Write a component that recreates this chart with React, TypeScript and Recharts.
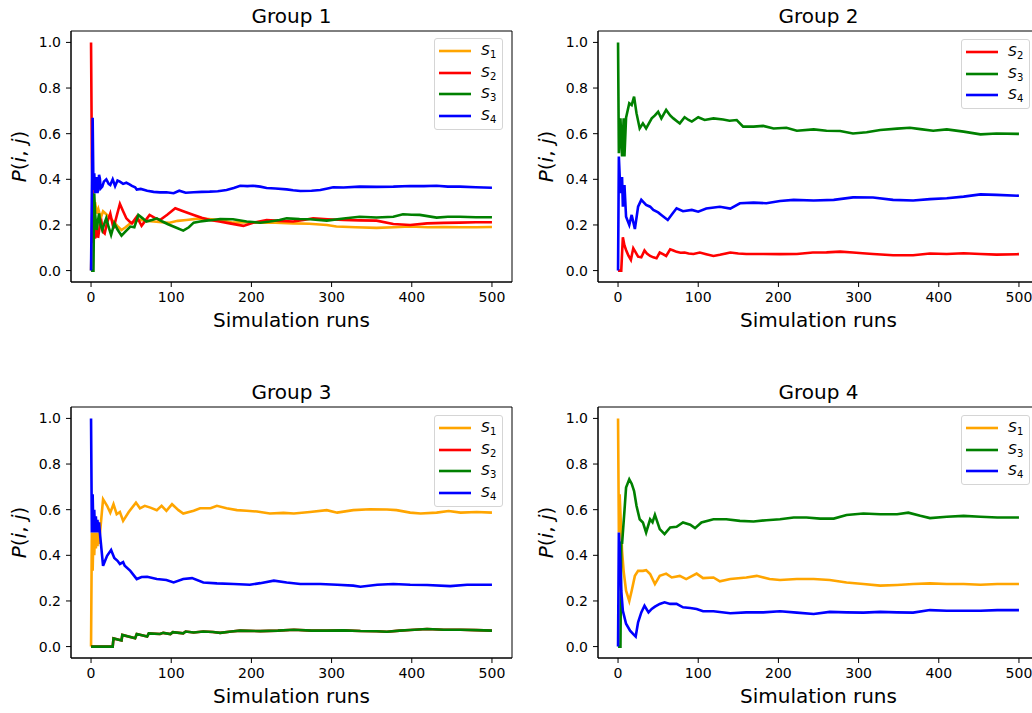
import React from 'react';
import { LineChart, Line, XAxis, YAxis, Legend, Label, ReferenceArea } from 'recharts';

// [simulation run, P(i, j)] pairs
const g1S1: [number, number][] = [
  [0, 0], [2, 0.33], [3, 0.25], [5, 0.3], [7, 0.25], [9, 0.27], [12, 0.23], [15, 0.26], [20, 0.244],
  [24, 0.23], [28, 0.215], [33, 0.195], [38, 0.178], [43, 0.19], [49, 0.207], [55, 0.215], [61, 0.222],
  [70, 0.218], [78, 0.215], [88, 0.212], [98, 0.21], [108, 0.218], [119, 0.222], [136, 0.229], [150, 0.225],
  [161, 0.222], [177, 0.21], [195, 0.212], [211, 0.21], [230, 0.21], [252, 0.207], [272, 0.205], [294, 0.2],
  [306, 0.193], [330, 0.19], [356, 0.187], [378, 0.19], [398, 0.193], [420, 0.19], [439, 0.191], [460, 0.19],
  [480, 0.19], [500, 0.191],
];
const g1S2: [number, number][] = [
  [0, 1.0], [1, 0.5], [2, 0.333], [3, 0.12], [4, 0.2], [5, 0.14], [6, 0.207], [8, 0.15], [9, 0.149],
  [11, 0.2], [13, 0.215], [15, 0.17], [17, 0.163], [20, 0.21], [24, 0.25], [28, 0.185], [32, 0.24],
  [36, 0.292], [40, 0.26], [44, 0.229], [48, 0.215], [51, 0.207], [57, 0.236], [63, 0.196], [68, 0.22],
  [73, 0.244], [80, 0.23], [86, 0.222], [95, 0.245], [105, 0.273], [115, 0.26], [128, 0.244], [138, 0.232],
  [148, 0.222], [160, 0.215], [173, 0.207], [190, 0.196], [202, 0.21], [219, 0.222], [235, 0.218],
  [252, 0.215], [265, 0.222], [277, 0.229], [295, 0.225], [315, 0.222], [335, 0.22], [356, 0.219],
  [377, 0.204], [398, 0.2], [419, 0.207], [440, 0.209], [460, 0.21], [480, 0.212], [500, 0.212],
];
const g1S3: [number, number][] = [
  [0, 0], [3, 0], [4, 0.339], [5, 0.25], [7, 0.178], [10, 0.25], [12, 0.2], [14, 0.178], [17, 0.21],
  [19, 0.23], [22, 0.19], [25, 0.156], [29, 0.207], [33, 0.18], [38, 0.153], [44, 0.175], [49, 0.193],
  [54, 0.19], [59, 0.244], [64, 0.23], [69, 0.215], [76, 0.222], [82, 0.229], [89, 0.215], [96, 0.203],
  [105, 0.19], [115, 0.175], [122, 0.19], [128, 0.21], [136, 0.215], [144, 0.219], [152, 0.222],
  [161, 0.226], [177, 0.225], [194, 0.215], [211, 0.21], [223, 0.215], [235, 0.222], [244, 0.229],
  [260, 0.226], [273, 0.225], [294, 0.219], [315, 0.228], [335, 0.236], [356, 0.233], [377, 0.236],
  [389, 0.247], [400, 0.245], [410, 0.244], [431, 0.232], [445, 0.236], [460, 0.236], [480, 0.234],
  [500, 0.234],
];
const g1S4: [number, number][] = [
  [0, 0], [2, 0.67], [3, 0.353], [4, 0.426], [5, 0.339], [7, 0.41], [8, 0.34], [9, 0.36], [10, 0.42],
  [11, 0.404], [12, 0.36], [14, 0.368], [16, 0.39], [19, 0.4], [22, 0.38], [24, 0.375], [27, 0.4],
  [30, 0.37], [33, 0.395], [36, 0.39], [40, 0.38], [44, 0.385], [48, 0.378], [51, 0.371], [55, 0.365],
  [57, 0.355], [62, 0.358], [70, 0.35], [78, 0.345], [86, 0.343], [94, 0.343], [103, 0.339], [110, 0.35],
  [118, 0.341], [128, 0.343], [138, 0.345], [148, 0.346], [158, 0.348], [169, 0.353], [178, 0.362],
  [186, 0.372], [195, 0.37], [202, 0.372], [211, 0.368], [219, 0.362], [230, 0.36], [244, 0.356],
  [252, 0.352], [261, 0.349], [275, 0.35], [286, 0.353], [295, 0.36], [302, 0.365], [315, 0.364],
  [335, 0.368], [356, 0.367], [377, 0.368], [398, 0.371], [415, 0.37], [431, 0.372], [445, 0.368],
  [460, 0.368], [480, 0.365], [500, 0.363],
];

const g2S2: [number, number][] = [
  [0, 0], [4, 0], [6, 0.146], [8, 0.11], [10, 0.09], [13, 0.065], [16, 0.047], [19, 0.098], [22, 0.08],
  [25, 0.061], [29, 0.058], [33, 0.088], [36, 0.075], [40, 0.064], [44, 0.058], [48, 0.054], [52, 0.079],
  [56, 0.072], [60, 0.064], [65, 0.093], [69, 0.088], [73, 0.082], [78, 0.078], [83, 0.079], [88, 0.075],
  [94, 0.073], [102, 0.079], [110, 0.072], [119, 0.064], [127, 0.069], [140, 0.079], [150, 0.075],
  [160, 0.073], [181, 0.073], [202, 0.072], [223, 0.073], [243, 0.079], [260, 0.08], [277, 0.083],
  [293, 0.079], [305, 0.076], [318, 0.073], [343, 0.067], [368, 0.067], [389, 0.075], [410, 0.073],
  [431, 0.076], [452, 0.073], [472, 0.07], [500, 0.072],
];
const g2S3: [number, number][] = [
  [0, 1.0], [1, 0.514], [3, 0.667], [5, 0.5], [7, 0.667], [8, 0.5], [10, 0.67], [14, 0.733], [17, 0.725],
  [20, 0.762], [23, 0.69], [27, 0.623], [31, 0.645], [35, 0.623], [42, 0.667], [46, 0.68], [50, 0.696],
  [54, 0.667], [60, 0.704], [65, 0.68], [69, 0.667], [77, 0.645], [83, 0.672], [88, 0.66], [92, 0.653],
  [100, 0.672], [108, 0.66], [119, 0.667], [131, 0.662], [139, 0.657], [148, 0.66], [156, 0.631],
  [169, 0.631], [181, 0.634], [194, 0.623], [210, 0.626], [223, 0.613], [244, 0.619], [260, 0.613],
  [277, 0.612], [293, 0.601], [310, 0.606], [327, 0.616], [348, 0.622], [364, 0.626], [377, 0.62],
  [393, 0.613], [410, 0.619], [431, 0.609], [452, 0.597], [472, 0.601], [500, 0.599],
];
const g2S4: [number, number][] = [
  [0, 0], [1, 0.5], [3, 0.339], [5, 0.41], [6, 0.28], [8, 0.375], [10, 0.236], [14, 0.2], [17, 0.244],
  [21, 0.182], [25, 0.28], [29, 0.31], [35, 0.288], [40, 0.28], [44, 0.266], [50, 0.255], [54, 0.244],
  [62, 0.222], [68, 0.25], [73, 0.273], [81, 0.26], [92, 0.266], [100, 0.258], [110, 0.272], [127, 0.28],
  [140, 0.272], [152, 0.295], [169, 0.298], [185, 0.295], [202, 0.305], [219, 0.31], [244, 0.307],
  [269, 0.31], [293, 0.321], [318, 0.32], [343, 0.31], [368, 0.307], [389, 0.313], [410, 0.317],
  [431, 0.324], [452, 0.334], [472, 0.332], [500, 0.328],
];

const g3S1: [number, number][] = [
  [0, 0], [1, 0.5], [2, 0.333], [3, 0.5], [4, 0.4], [5, 0.5], [6, 0.43], [7, 0.5], [8, 0.44], [9, 0.5],
  [10, 0.45], [11, 0.493], [15, 0.646], [20, 0.617], [24, 0.587], [28, 0.624], [32, 0.58], [36, 0.59],
  [40, 0.551], [47, 0.59], [56, 0.631], [61, 0.606], [67, 0.617], [74, 0.609], [82, 0.598], [88, 0.617],
  [94, 0.595], [101, 0.624], [109, 0.598], [115, 0.583], [128, 0.595], [136, 0.606], [149, 0.606],
  [157, 0.617], [169, 0.606], [182, 0.598], [194, 0.595], [207, 0.592], [223, 0.583], [240, 0.586],
  [253, 0.583], [273, 0.59], [294, 0.598], [307, 0.587], [327, 0.598], [348, 0.602], [369, 0.601],
  [381, 0.598], [398, 0.587], [411, 0.583], [431, 0.587], [446, 0.594], [461, 0.587], [481, 0.59],
  [500, 0.587],
];
const g3S2: [number, number][] = [
  [0, 0], [27, 0], [28, 0.036], [38, 0.027], [39, 0.051], [55, 0.037], [57, 0.055], [70, 0.044],
  [72, 0.058], [86, 0.055], [90, 0.06], [99, 0.055], [102, 0.063], [115, 0.058], [118, 0.066], [128, 0.062],
  [140, 0.066], [152, 0.064], [161, 0.06], [175, 0.066], [186, 0.07], [211, 0.068], [233, 0.07],
  [253, 0.074], [275, 0.07], [294, 0.07], [315, 0.071], [336, 0.068], [356, 0.067], [369, 0.065],
  [385, 0.07], [398, 0.073], [419, 0.077], [440, 0.074], [461, 0.074], [480, 0.072], [500, 0.07],
];
const g3S3: [number, number][] = [
  [0, 0], [27, 0], [28, 0.036], [38, 0.027], [39, 0.051], [55, 0.037], [57, 0.055], [70, 0.044],
  [72, 0.058], [86, 0.055], [90, 0.06], [99, 0.055], [102, 0.063], [115, 0.058], [118, 0.066], [128, 0.062],
  [140, 0.066], [152, 0.064], [161, 0.06], [175, 0.066], [186, 0.07], [211, 0.068], [233, 0.07],
  [253, 0.074], [275, 0.07], [294, 0.07], [315, 0.071], [336, 0.068], [356, 0.067], [369, 0.065],
  [385, 0.07], [398, 0.073], [419, 0.077], [440, 0.074], [461, 0.074], [480, 0.072], [500, 0.07],
];
const g3S4: [number, number][] = [
  [0, 1.0], [1, 0.5], [2, 0.667], [3, 0.5], [4, 0.6], [5, 0.5], [6, 0.571], [7, 0.5], [8, 0.556], [9, 0.5],
  [10, 0.545], [11, 0.5], [15, 0.354], [20, 0.398], [25, 0.423], [29, 0.388], [33, 0.376], [36, 0.362],
  [40, 0.37], [42, 0.354], [49, 0.332], [57, 0.296], [63, 0.305], [70, 0.306], [82, 0.296], [94, 0.292],
  [103, 0.281], [115, 0.296], [126, 0.3], [140, 0.281], [157, 0.277], [178, 0.274], [198, 0.271],
  [211, 0.278], [228, 0.289], [244, 0.281], [261, 0.274], [286, 0.274], [307, 0.271], [327, 0.267],
  [336, 0.262], [357, 0.271], [377, 0.274], [398, 0.271], [419, 0.27], [448, 0.265], [469, 0.271],
  [500, 0.271],
];

const g4S1: [number, number][] = [
  [0, 1.0], [1, 0.5], [2, 0.667], [4, 0.5], [5, 0.42], [7, 0.33], [10, 0.245], [14, 0.2], [17, 0.245],
  [21, 0.31], [25, 0.332], [31, 0.332], [35, 0.335], [40, 0.318], [46, 0.274], [52, 0.31], [60, 0.32],
  [67, 0.303], [77, 0.31], [85, 0.296], [98, 0.32], [106, 0.3], [119, 0.303], [127, 0.286], [140, 0.296],
  [160, 0.303], [173, 0.31], [189, 0.296], [202, 0.292], [223, 0.296], [244, 0.296], [264, 0.292],
  [285, 0.281], [306, 0.274], [327, 0.267], [348, 0.27], [368, 0.274], [389, 0.277], [410, 0.274],
  [431, 0.274], [452, 0.271], [473, 0.274], [500, 0.274],
];
const g4S3: [number, number][] = [
  [0, 0], [3, 0], [4, 0.46], [5, 0.45], [8, 0.595], [10, 0.697], [14, 0.733], [17, 0.714], [20, 0.682],
  [23, 0.617], [27, 0.558], [31, 0.544], [35, 0.5], [40, 0.558], [43, 0.545], [46, 0.577], [52, 0.515],
  [58, 0.493], [65, 0.522], [73, 0.525], [81, 0.544], [90, 0.534], [96, 0.519], [104, 0.544], [119, 0.558],
  [135, 0.558], [152, 0.551], [169, 0.548], [185, 0.554], [202, 0.558], [219, 0.566], [235, 0.566],
  [252, 0.561], [269, 0.561], [285, 0.577], [306, 0.583], [327, 0.58], [348, 0.58], [362, 0.587],
  [377, 0.573], [389, 0.563], [410, 0.569], [431, 0.573], [452, 0.569], [473, 0.566], [500, 0.566],
];
const g4S4: [number, number][] = [
  [0, 0], [1, 0.5], [3, 0.36], [4, 0.245], [6, 0.157], [10, 0.1], [15, 0.07], [19, 0.055], [22, 0.044],
  [25, 0.106], [29, 0.15], [33, 0.179], [38, 0.15], [42, 0.165], [46, 0.175], [52, 0.187], [58, 0.194],
  [65, 0.187], [73, 0.187], [81, 0.172], [90, 0.169], [98, 0.165], [106, 0.155], [119, 0.155], [140, 0.146],
  [160, 0.15], [181, 0.15], [202, 0.155], [223, 0.149], [244, 0.143], [264, 0.152], [285, 0.15],
  [306, 0.149], [327, 0.152], [348, 0.15], [368, 0.149], [389, 0.16], [410, 0.157], [431, 0.157],
  [452, 0.157], [473, 0.16], [500, 0.16],
];

const X_TICKS = [0, 100, 200, 300, 400, 500];
const Y_TICKS = [0, 0.2, 0.4, 0.6, 0.8, 1.0];

const COLORS: Record<string, string> = {
  '1': '#FFA500',
  '2': '#FF0000',
  '3': '#008000',
  '4': '#0000FF',
};

const FONT = 'DejaVu Sans';

type Series = { id: string; points: [number, number][] };

const panels: { title: string; x: number; y: number; legendTop: number; series: Series[] }[] = [
  {
    title: 'Group 1', x: 0, y: 0, legendTop: 38,
    series: [{ id: '1', points: g1S1 }, { id: '2', points: g1S2 }, { id: '3', points: g1S3 }, { id: '4', points: g1S4 }],
  },
  {
    title: 'Group 2', x: 527, y: 0, legendTop: 39,
    series: [{ id: '2', points: g2S2 }, { id: '3', points: g2S3 }, { id: '4', points: g2S4 }],
  },
  {
    title: 'Group 3', x: 0, y: 376, legendTop: 39,
    series: [{ id: '1', points: g3S1 }, { id: '2', points: g3S2 }, { id: '3', points: g3S3 }, { id: '4', points: g3S4 }],
  },
  {
    title: 'Group 4', x: 527, y: 376, legendTop: 39,
    series: [{ id: '1', points: g4S1 }, { id: '3', points: g4S3 }, { id: '4', points: g4S4 }],
  },
];

const tickStyle = { fontSize: 14, fill: '#000', fontFamily: FONT };

function YTitle(props: any) {
  const vb = props.viewBox || { x: 0, y: 0, width: 0, height: 0 };
  const cx = vb.x + 26;
  const cy = vb.y + vb.height / 2;
  return (
    <text
      x={cx}
      y={cy}
      transform={`rotate(-90 ${cx} ${cy})`}
      textAnchor="middle"
      fontSize={20}
      fill="#000"
      fontFamily={FONT}
    >
      <tspan fontStyle="italic">P</tspan>(<tspan fontStyle="italic">i</tspan>, <tspan fontStyle="italic">j</tspan>)
    </text>
  );
}

function LegendBox({ payload }: any) {
  return (
    <div
      style={{
        border: '1px solid #d5d5d5',
        borderRadius: 3,
        background: 'rgba(255,255,255,0.8)',
        padding: '1px 6px 2px 4px',
        fontFamily: FONT,
        color: '#000',
      }}
    >
      {(payload || []).map((e: any) => (
        <div key={e.value} style={{ display: 'flex', alignItems: 'center', height: 21.7 }}>
          <svg width={32} height={4} style={{ display: 'block' }}>
            <line x1={0} y1={2} x2={32} y2={2} stroke={e.color} strokeWidth={2.6} />
          </svg>
          <span style={{ marginLeft: 10, fontSize: 14, lineHeight: '14px', whiteSpace: 'nowrap' }}>
            <i>S</i>
            <span style={{ fontSize: 10, position: 'relative', top: 3 }}>{e.value.slice(1)}</span>
          </span>
        </div>
      ))}
    </div>
  );
}

function Panel({ title, x, y, legendTop, series }: (typeof panels)[number]) {
  return (
    <div style={{ position: 'absolute', left: x, top: y, width: 516, height: 340 }}>
      <LineChart width={516} height={340} margin={{ top: 31, right: 4, bottom: 0, left: 0 }}>
        <XAxis
          dataKey="run"
          type="number"
          domain={[-25, 525]}
          ticks={X_TICKS}
          allowDataOverflow
          height={58}
          stroke="#000"
          tickSize={5}
          tickMargin={5}
          tick={tickStyle}
        >
          <Label value="Simulation runs" position="insideBottom" offset={13} fontSize={20} fill="#000" fontFamily={FONT} />
        </XAxis>
        <YAxis
          type="number"
          domain={[-0.05, 1.05]}
          ticks={Y_TICKS}
          allowDataOverflow
          width={71}
          stroke="#000"
          tickSize={5}
          tickMargin={5}
          tick={tickStyle}
          tickFormatter={(v: number) => v.toFixed(1)}
        >
          <Label content={YTitle} />
        </YAxis>
        <Legend
          layout="horizontal"
          align="center"
          verticalAlign="middle"
          content={LegendBox}
          wrapperStyle={{ top: legendTop, left: 434, width: 'auto', height: 'auto' }}
        />
        {series.map((s) => (
          <Line
            key={s.id}
            name={`S${s.id}`}
            data={s.points.map(([run, p]) => ({ run, p }))}
            dataKey="p"
            type="linear"
            stroke={COLORS[s.id]}
            strokeWidth={2.6}
            dot={false}
            activeDot={false}
            isAnimationActive={false}
          />
        ))}
        {/* axes frame (matplotlib spines) with the panel title above it */}
        <ReferenceArea
          x1={-25}
          x2={525}
          y1={-0.05}
          y2={1.05}
          ifOverflow="visible"
          fill="none"
          fillOpacity={0}
          stroke="#000"
          strokeWidth={1}
        >
          <Label value={title} position="top" offset={8} fontSize={20} fill="#000" fontFamily={FONT} />
        </ReferenceArea>
      </LineChart>
    </div>
  );
}

export default function App() {
  return (
    <div
      style={{
        position: 'fixed',
        left: 0,
        top: 0,
        width: 1032,
        height: 713,
        background: '#fff',
        overflow: 'hidden',
      }}
    >
      {panels.map((p) => (
        <Panel key={p.title} {...p} />
      ))}
    </div>
  );
}
